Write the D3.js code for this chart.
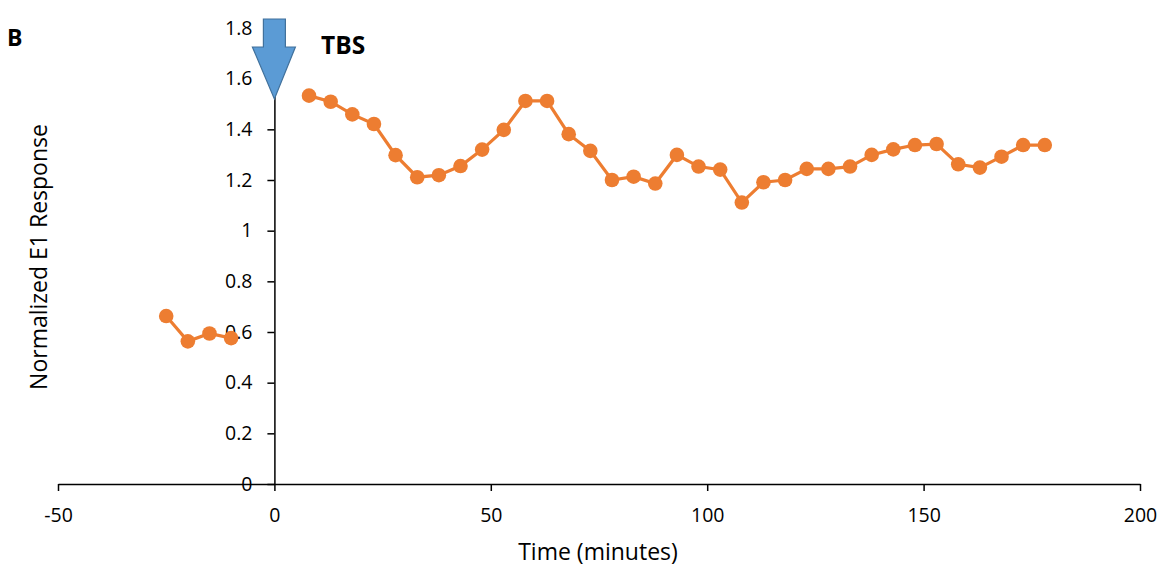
<!DOCTYPE html>
<html>
<head>
<meta charset="utf-8">
<script src="https://cdn.jsdelivr.net/npm/d3@7"></script>
<style>
  body { margin: 0; background: #fff; }
  svg text { font-family: "Open Sans", sans-serif; fill: #000; }
</style>
</head>
<body>
<div id="chart"></div>
<script>
// Data
const preTimes = [-25, -20, -15, -10];
const preValues = [0.663, 0.563, 0.594, 0.576];

const postTimes = [8, 13, 18, 23, 28, 33, 38, 43, 48, 53, 58, 63, 68,
                   73, 78, 83, 88, 93, 98, 103, 108, 113, 118, 123, 128, 133,
                   138, 143, 148, 153, 158, 163, 168, 173, 178];
const postValues = [1.533, 1.509, 1.459, 1.421, 1.298, 1.211, 1.219, 1.255, 1.320, 1.398, 1.512, 1.512, 1.381,
                    1.315, 1.200, 1.213, 1.186, 1.299, 1.253, 1.241, 1.111, 1.191, 1.200, 1.244, 1.244, 1.253,
                    1.299, 1.321, 1.338, 1.342, 1.262, 1.249, 1.292, 1.338, 1.338];

const xTicks = [-50, 0, 50, 100, 150, 200];
const yTicks = [0, 0.2, 0.4, 0.6, 0.8, 1, 1.2, 1.4, 1.6, 1.8];
const tbsTime = 0;
const tbsLevel = 1.52;

const width = 1167, height = 582;
const svg = d3.select("#chart").append("svg")
    .attr("width", width)
    .attr("height", height);

const xScale = d3.scaleLinear().domain([-50, 200]).range([58, 1140]);
const yScale = d3.scaleLinear().domain([0, 1.8]).range([484, 28]);

// x axis, sits at y = 0
const xAxis = svg.append("g")
    .attr("transform", `translate(0, ${yScale(0)})`)
    .call(d3.axisBottom(xScale).tickValues(xTicks).tickFormat(d => String(d)).tickSize(7).tickSizeOuter(0));
xAxis.select(".domain").attr("stroke", "#000").attr("stroke-width", 1.5);
xAxis.selectAll(".tick line").attr("stroke", "#000").attr("stroke-width", 1.5);
xAxis.selectAll(".tick text").style("font-size", "19.5px").attr("y", 24).attr("dy", "0.71em");

// y axis, sits at x = 0
const yAxis = svg.append("g")
    .attr("transform", `translate(${xScale(0)}, 0)`)
    .call(d3.axisLeft(yScale).tickValues(yTicks).tickFormat(d => String(d)).tickSize(7).tickSizeOuter(0));
yAxis.select(".domain").attr("stroke", "#000").attr("stroke-width", 1.5);
yAxis.selectAll(".tick line").attr("stroke", "#000").attr("stroke-width", 1.5);
yAxis.selectAll(".tick text").style("font-size", "19.5px").attr("x", -22);

// series
const line = d3.line().x(d => xScale(d[0])).y(d => yScale(d[1]));
const segments = [
    d3.zip(preTimes, preValues),
    d3.zip(postTimes, postValues)
];
const orange = "#ED7D31";
segments.forEach(seg => {
    svg.append("path")
        .datum(seg)
        .attr("fill", "none")
        .attr("stroke", orange)
        .attr("stroke-width", 3.2)
        .attr("d", line);
    svg.append("g").selectAll("circle")
        .data(seg)
        .enter().append("circle")
        .attr("cx", d => xScale(d[0]))
        .attr("cy", d => yScale(d[1]))
        .attr("r", 7.3)
        .attr("fill", orange);
});

// TBS arrow
const ax = xScale(tbsTime), tipY = yScale(tbsLevel);
const arrow = [
    [ax - 11, 19], [ax + 11, 19], [ax + 11, 47], [ax + 21, 47],
    [ax, tipY], [ax - 22, 47], [ax - 11, 47]
];
svg.append("path")
    .attr("d", d3.line()(arrow) + "Z")
    .attr("fill", "#5B9BD5")
    .attr("stroke", "#41719C")
    .attr("stroke-width", 1.2);

svg.append("text")
    .attr("x", 321).attr("y", 54)
    .style("font-size", "24.5px").style("font-weight", "bold")
    .text("TBS");

svg.append("text")
    .attr("x", 7).attr("y", 46)
    .style("font-size", "23px").style("font-weight", "bold")
    .text("B");

// axis titles
svg.append("text")
    .attr("x", 598).attr("y", 560)
    .attr("text-anchor", "middle")
    .style("font-size", "23px")
    .text("Time (minutes)");

svg.append("text")
    .attr("transform", "translate(47, 257) rotate(-90)")
    .attr("text-anchor", "middle")
    .style("font-size", "23px")
    .text("Normalized E1 Response");
</script>
</body>
</html>
